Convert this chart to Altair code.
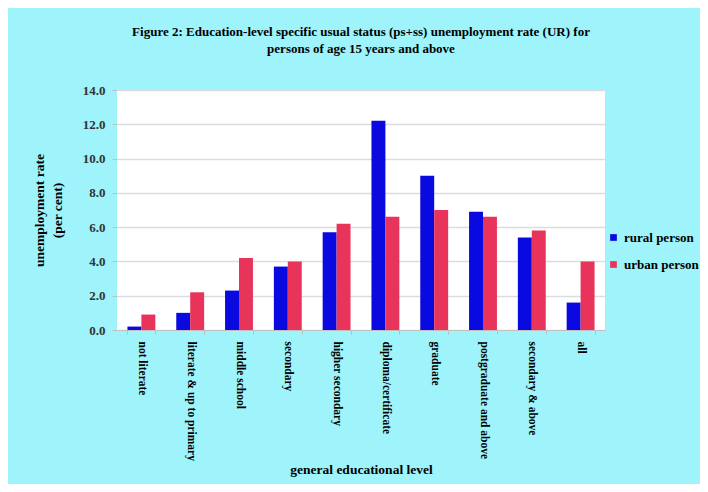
import altair as alt
import pandas as pd

categories = ["not literate", "literate & up to primary", "middle school", "secondary",
              "higher secondary", "diploma/certificate", "graduate",
              "postgraduate and above", "secondary & above", "all"]
rural = [0.2, 1.0, 2.3, 3.7, 5.7, 12.2, 9.0, 6.9, 5.4, 1.6]
urban = [0.9, 2.2, 4.2, 4.0, 6.2, 6.6, 7.0, 6.6, 5.8, 4.0]
series = ["rural person", "urban person"]
colors = ["#0A0AE0", "#E8335A"]
y_ticks = [0, 2, 4, 6, 8, 10, 12, 14]

rows = []
for c, r, u in zip(categories, rural, urban):
    rows.append({"level": c, "series": series[0], "rate": r})
    rows.append({"level": c, "series": series[1], "rate": u})
df = pd.DataFrame(rows)

FONT = "Liberation Serif"

chart = alt.Chart(df).mark_bar().encode(
    x=alt.X("level:N", sort=categories,
            scale=alt.Scale(paddingInner=0.4286, paddingOuter=0.2143),
            axis=alt.Axis(title="general educational level", labelAngle=90,
                          labelAlign="left", labelBaseline="middle",
                          labelFont=FONT, labelFontWeight="bold", labelFontSize=11.5,
                          labelColor="#000000", labelPadding=7,
                          tickBand="extent", tickColor="#BFBFBF", tickSize=4,
                          domainColor="#BFBFBF",
                          titleFont=FONT, titleFontWeight="bold", titleFontSize=13.5,
                          titleColor="#000000", titlePadding=2)),
    xOffset=alt.XOffset("series:N", sort=series),
    y=alt.Y("rate:Q", scale=alt.Scale(domain=[0, 14]),
            axis=alt.Axis(title=["unemployment rate", "(per cent)"], values=y_ticks,
                          format=".1f", labelFont=FONT, labelFontSize=13,
                          labelFontWeight="bold", labelColor="#333333",
                          labelPadding=7, tickSize=5, tickColor="#BFBFBF",
                          domain=False, gridColor="#D9DDE0", gridWidth=1.5,
                          titleFont=FONT, titleFontWeight="bold", titleFontSize=13.5,
                          titleColor="#000000", titlePadding=18, titleLineHeight=18)),
    color=alt.Color("series:N", sort=series,
                    scale=alt.Scale(domain=series, range=colors),
                    legend=alt.Legend(title=None, orient="none", legendX=490,
                                      legendY=141, symbolType="square",
                                      symbolSize=45, symbolStrokeWidth=0,
                                      labelFont=FONT, labelFontWeight="bold",
                                      labelFontSize=13, labelColor="#000000",
                                      rowPadding=13, labelOffset=4)),
).properties(
    width=488, height=240,
    title=alt.Title(["Figure 2: Education-level specific usual status (ps+ss) unemployment rate (UR) for",
                     "persons of age 15 years and above"],
                    font=FONT, fontSize=13, fontWeight="bold", color="#000000",
                    anchor="middle", offset=28, lineHeight=17),
    background="#9EF4FA",
    autosize=alt.AutoSizeParams(type="none"),
    padding={"left": 109, "top": 82, "right": 95, "bottom": 154},
).configure_view(fill="#FFFFFF", stroke=None)

chart.save("out.html", embed_options={"renderer": "svg", "actions": False})
